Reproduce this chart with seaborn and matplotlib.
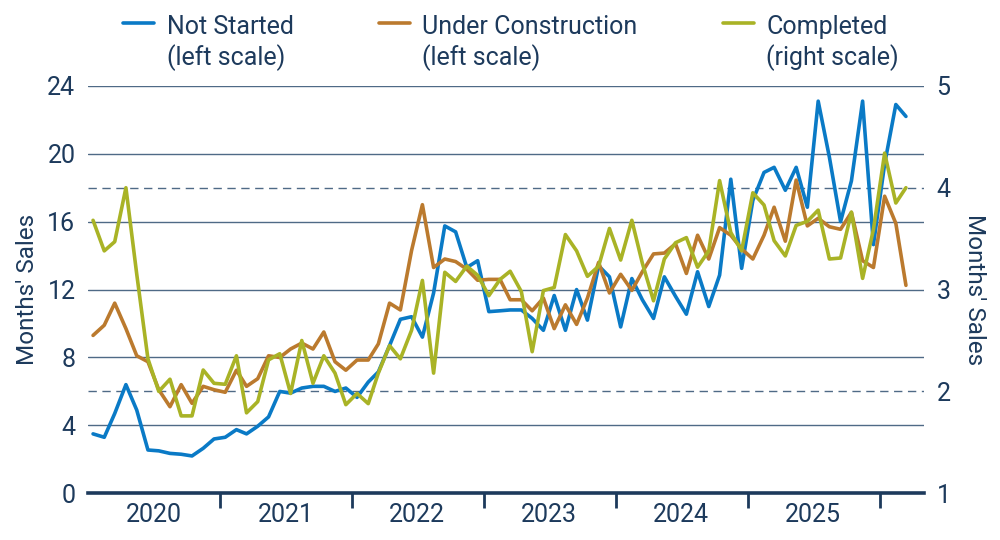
import numpy as np
import pandas as pd
import matplotlib
matplotlib.use("Agg")
import matplotlib.pyplot as plt
import seaborn as sns

# ---------------- data ----------------
months = pd.date_range("2020-01-01", periods=75, freq="MS") + pd.Timedelta(days=14)

not_started = [3.5, 3.3, 4.7, 6.4, 4.9, 2.55, 2.5, 2.35, 2.3, 2.2, 2.65, 3.2,
               3.3, 3.75, 3.5, 3.95, 4.5, 6.0, 5.9, 6.2, 6.3, 6.3, 6.0, 6.2,
               5.65, 6.55, 7.15, 8.7, 10.25, 10.4, 9.2, 11.8, 15.75, 15.4, 13.3, 13.7,
               10.7, 10.75, 10.8, 10.8, 10.3, 9.6, 11.65, 9.6, 12.0, 10.2, 13.4, 12.75,
               9.8, 12.65, 11.4, 10.3, 12.75, 11.6, 10.55, 13.05, 11.0, 12.85, 18.5, 13.25,
               17.25, 18.9, 19.2, 17.85, 19.2, 16.85, 23.1, 19.8, 16.0, 18.4, 23.1, 14.65,
               19.4, 22.9, 22.2]

under_construction = [9.3, 9.9, 11.2, 9.7, 8.1, 7.75, 6.1, 5.1, 6.4, 5.3, 6.3, 6.1,
                      5.95, 7.25, 6.3, 6.75, 8.1, 8.0, 8.5, 8.85, 8.5, 9.5, 7.75, 7.25,
                      7.85, 7.85, 8.8, 11.2, 10.8, 14.3, 17.0, 13.3, 13.8, 13.65, 13.2, 12.55,
                      12.6, 12.6, 11.4, 11.4, 10.75, 11.5, 9.7, 11.1, 9.95, 11.5, 13.6, 11.8,
                      12.9, 11.95, 13.05, 14.1, 14.15, 14.7, 12.95, 15.2, 13.8, 15.65, 15.2, 14.4,
                      13.8, 15.2, 16.85, 14.85, 18.45, 15.75, 16.2, 15.7, 15.55, 16.55, 13.7, 13.3,
                      17.5, 15.9, 12.25]

completed = [3.68, 3.38, 3.47, 4.00, 3.15, 2.32, 2.00, 2.12, 1.76, 1.76, 2.21, 2.08,
             2.07, 2.35, 1.79, 1.90, 2.31, 2.37, 1.98, 2.50, 2.08, 2.35, 2.18, 1.87,
             1.98, 1.88, 2.18, 2.45, 2.32, 2.60, 3.09, 2.18, 3.17, 3.08, 3.23, 3.14,
             2.94, 3.10, 3.18, 2.98, 2.39, 2.99, 3.02, 3.54, 3.38, 3.13, 3.23, 3.60,
             3.29, 3.68, 3.26, 2.89, 3.30, 3.46, 3.51, 3.22, 3.38, 4.07, 3.56, 3.38,
             3.95, 3.83, 3.48, 3.33, 3.63, 3.67, 3.78, 3.30, 3.31, 3.76, 3.11, 3.59,
             4.34, 3.85, 4.00]

year_labels = ["2020", "2021", "2022", "2023", "2024", "2025"]
left_ticks = [0, 4, 8, 12, 16, 20, 24]
right_ticks = [1, 2, 3, 4, 5]
labels = ["Not Started\n(left scale)", "Under Construction\n(left scale)",
          "Completed\n(right scale)"]

# ---------------- style ----------------
sns.set_theme(style="white")
plt.rcParams["font.family"] = ["Roboto", "DejaVu Sans"]

navy = "#1d3a5c"
grid_c = "#4f6a86"
c_blue = "#0a7ac6"
c_orange = "#bb7a2e"
c_green = "#a9b326"
FS = 18

fig = plt.figure(figsize=(10, 5.4), dpi=100)
ax = fig.add_axes([0.088, 0.0865, 0.836, 0.7545])
ax2 = ax.twinx()

df = pd.DataFrame({"month": months, "ns": not_started, "uc": under_construction,
                   "co": completed})

LMIN, LMAX = 0, 24
RMIN, RMAX = 1, 5
ax.set_ylim(LMIN, LMAX)
ax2.set_ylim(RMIN, RMAX)

# grid lines (solid on left ticks, dashed on right ticks that fall between)
for v in left_ticks[1:]:
    ax.axhline(v, color=grid_c, lw=1.0, zorder=0)
for r in [2, 4]:
    ax.axhline(LMIN + (r - RMIN) * (LMAX - LMIN) / (RMAX - RMIN),
               color=grid_c, lw=1.0, ls=(0, (6, 4)), zorder=0)

lw = 2.6
sns.lineplot(data=df, x="month", y="ns", ax=ax, color=c_blue, lw=lw,
             label=labels[0], legend=False)
sns.lineplot(data=df, x="month", y="uc", ax=ax, color=c_orange, lw=lw,
             label=labels[1], legend=False)
sns.lineplot(data=df, x="month", y="co", ax=ax2, color=c_green, lw=lw,
             label=labels[2], legend=False)

ax.set_ylim(LMIN, LMAX)
ax2.set_ylim(RMIN, RMAX)
ax.set_xlim(pd.Timestamp("2020-01-01"), pd.Timestamp("2026-05-04"))
ax.set_yticks(left_ticks)
ax2.set_yticks(right_ticks)

for a in (ax, ax2):
    for s in ("left", "right", "top", "bottom"):
        a.spines[s].set_visible(False)
ax.spines["bottom"].set_visible(True)
ax.spines["bottom"].set_color(navy)
ax.spines["bottom"].set_linewidth(2.6)

# x ticks: marks at year boundaries, labels centred in each year
major = [pd.Timestamp(f"{y}-01-01") for y in range(2021, 2027)]
minor = [pd.Timestamp(f"{y}-07-01") for y in range(2020, 2026)]
ax.set_xticks(major)
ax.set_xticklabels([""] * len(major))
ax.set_xticks(minor, minor=True)
ax.set_xticklabels(year_labels, minor=True)
ax.tick_params(axis="x", which="major", bottom=True, length=11, width=2,
               color=navy, direction="out")
ax.tick_params(axis="x", which="minor", bottom=True, length=0, labelsize=FS,
               labelcolor=navy, pad=7)
ax.tick_params(axis="y", length=0, labelsize=FS, labelcolor=navy, pad=9)
ax2.tick_params(axis="y", length=0, labelsize=FS, labelcolor=navy, pad=9)

ax.set_xlabel("")
ax.set_ylabel("Months' Sales", fontsize=17.5, color=navy, labelpad=6)
ax2.set_ylabel("Months' Sales", fontsize=17.5, color=navy, rotation=270,
               labelpad=9, va="bottom")

h1, l1 = ax.get_legend_handles_labels()
h2, l2 = ax2.get_legend_handles_labels()
leg = fig.legend(h1 + h2, l1 + l2, loc="upper left", bbox_to_anchor=(0.123, 0.973),
                 ncol=3, frameon=False, fontsize=FS, handlelength=1.25,
                 handletextpad=0.5, columnspacing=3.4, labelcolor=navy,
                 borderaxespad=0, borderpad=0)
for t in leg.get_texts():
    t.set_linespacing(1.25)
# put each legend handle level with the first text line
for col in leg._legend_handle_box.get_children():
    for item in col.get_children():
        item.align = "top"

fig.savefig("out.png", dpi=100)
